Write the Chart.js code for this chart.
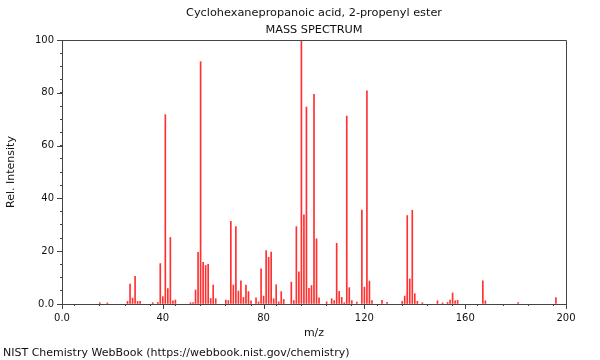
<!DOCTYPE html>
<html>
<head>
<meta charset="utf-8">
<script src="https://cdn.jsdelivr.net/npm/chart.js@4/dist/chart.umd.min.js"></script>
<style>
    html, body { margin: 0; padding: 0; background: #fff; }
    #wrap { width: 600px; height: 360px; position: relative; }
</style>
</head>
<body>
<div id="wrap"><canvas id="spectrum"></canvas></div>
<script>
// --- Data ---
const titleLines = ['Cyclohexanepropanoic acid, 2-propenyl ester', 'MASS SPECTRUM'];
const footerText = 'NIST Chemistry WebBook (https://webbook.nist.gov/chemistry)';

const mz = [15, 18, 26, 27, 28, 29, 30, 31, 36, 38, 39, 40, 41, 42, 43, 44, 45,
    51, 52, 53, 54, 55, 56, 57, 58, 59, 60, 61, 65, 66, 67, 68, 69, 70, 71, 72, 73, 74, 75,
    77, 78, 79, 80, 81, 82, 83, 84, 85, 86, 87, 88, 91, 92, 93, 94, 95, 96, 97, 98, 99, 100,
    101, 102, 105, 107, 108, 109, 110, 111, 112, 113, 114, 115, 117, 119, 120, 121, 122, 123,
    127, 129, 135, 136, 137, 138, 139, 140, 141, 143, 149, 151, 153, 154, 155, 156, 157,
    167, 168, 181, 196];
const intensity = [0.5, 0.4, 1.0, 7.5, 2.2, 10.5, 1.0, 1.0, 0.5, 0.6, 15.3, 2.8, 71.7, 5.8, 25.2, 1.2, 1.5,
    0.5, 0.5, 5.3, 19.6, 91.8, 15.8, 14.6, 15.0, 2.1, 7.2, 2.0, 1.5, 1.3, 31.3, 7.2, 29.3, 4.9, 8.8, 2.5, 7.2, 4.7, 1.2,
    2.3, 0.8, 13.3, 3.0, 20.2, 17.7, 19.7, 2.0, 7.3, 0.8, 4.7, 1.7, 8.3, 1.3, 29.3, 12.2, 100, 33.8, 74.6, 5.9, 7.0, 79.4,
    24.7, 2.3, 0.8, 2.0, 1.3, 23.0, 4.8, 2.5, 0.5, 71.2, 6.2, 1.3, 0.7, 35.6, 6.4, 80.7, 8.7, 1.3,
    1.4, 0.6, 1.0, 3.0, 33.5, 9.5, 35.5, 3.9, 1.0, 0.5, 1.2, 0.4, 0.6, 1.5, 4.2, 1.2, 1.4,
    8.8, 1.2, 0.5, 2.4];

const xMajor = [0, 40, 80, 120, 160, 200];
const yMajor = [0, 20, 40, 60, 80, 100];

const FONT = "'DejaVu Sans', sans-serif";
const TEXT = '#111';
const FRAME = '#444';

// --- Plugin: titles, footer, frame, long major ticks ---
const decorations = {
    id: 'decorations',
    afterDraw(chart) {
        const { ctx, chartArea: a, scales: { x, y } } = chart;
        ctx.save();

        // frame on top and right
        ctx.strokeStyle = FRAME;
        ctx.lineWidth = 1;
        ctx.beginPath();
        ctx.moveTo(a.left, a.top + 0.5);
        ctx.lineTo(a.right + 0.5, a.top + 0.5);
        ctx.lineTo(a.right + 0.5, a.bottom);
        ctx.stroke();

        // major ticks are longer than the minor ones
        ctx.beginPath();
        xMajor.forEach(v => {
            const px = Math.round(x.getPixelForValue(v)) + 0.5;
            ctx.moveTo(px, a.bottom);
            ctx.lineTo(px, a.bottom + 5);
        });
        yMajor.forEach(v => {
            const py = Math.round(y.getPixelForValue(v)) + 0.5;
            ctx.moveTo(a.left, py);
            ctx.lineTo(a.left - 5, py);
        });
        ctx.stroke();

        // titles
        const cx = (a.left + a.right) / 2;
        ctx.fillStyle = TEXT;
        ctx.font = `11.3px ${FONT}`;
        ctx.textAlign = 'center';
        ctx.textBaseline = 'middle';
        ctx.fillText(titleLines[0], cx, 13);
        ctx.fillText(titleLines[1], cx, 30);

        // axis titles
        ctx.font = `11px ${FONT}`;
        ctx.fillText('m/z', cx, 333);
        ctx.save();
        ctx.translate(11, (a.top + a.bottom) / 2);
        ctx.rotate(-Math.PI / 2);
        ctx.fillText('Rel. Intensity', 0, 0);
        ctx.restore();

        // footer
        ctx.textAlign = 'left';
        ctx.fillText(footerText, 3, 353);

        ctx.restore();
    }
};

new Chart(document.getElementById('spectrum'), {
    type: 'bar',
    data: {
        datasets: [{
            data: mz.map((m, i) => ({ x: m, y: intensity[i] })),
            backgroundColor: '#ff3030',
            borderWidth: 0,
            barThickness: 1
        }]
    },
    options: {
        responsive: true,
        maintainAspectRatio: false,
        animation: false,
        layout: { padding: { left: 0, right: 34, top: 40, bottom: 0 } },
        plugins: { legend: { display: false }, tooltip: { enabled: false } },
        scales: {
            x: {
                type: 'linear',
                min: 0,
                max: 200,
                offset: false,
                afterFit: s => { s.height = 56; },
                border: { color: FRAME, width: 1 },
                grid: { display: true, drawOnChartArea: false, tickLength: 2, color: FRAME },
                ticks: {
                    stepSize: 10,
                    autoSkip: false,
                    maxRotation: 0,
                    padding: 6,
                    color: TEXT,
                    font: { family: FONT, size: 10 },
                    callback: v => (v % 40 === 0 ? (v === 0 ? '0.0' : String(v)) : '')
                }
            },
            y: {
                min: 0,
                max: 100,
                afterFit: s => { s.width = 62; },
                border: { color: FRAME, width: 1 },
                grid: { display: true, drawOnChartArea: false, tickLength: 2, color: FRAME },
                ticks: {
                    stepSize: 5,
                    autoSkip: false,
                    padding: 6,
                    color: TEXT,
                    font: { family: FONT, size: 10 },
                    callback: v => (v % 20 === 0 ? (v === 0 ? '0.0' : String(v)) : '')
                }
            }
        }
    },
    plugins: [decorations]
});
</script>
</body>
</html>
